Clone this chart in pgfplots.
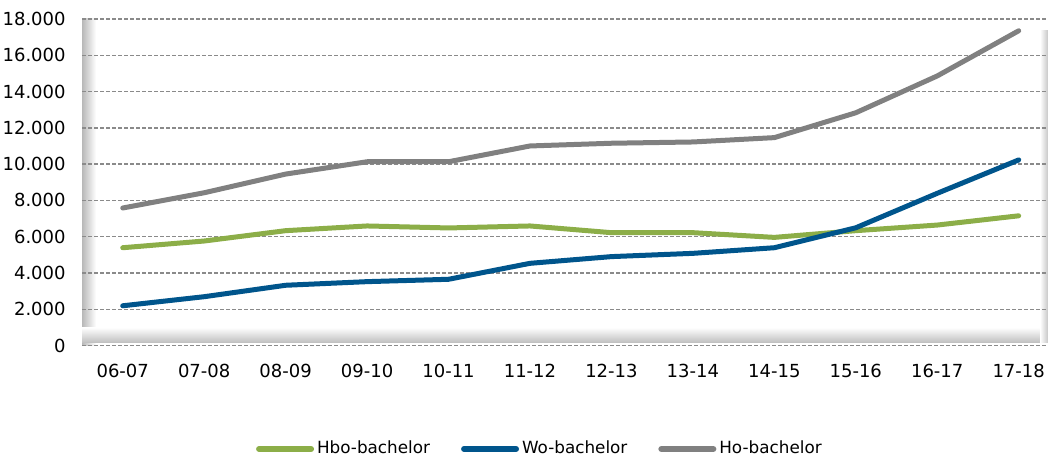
\documentclass[border=0pt]{standalone}
\usepackage{pgfplots}
\pgfplotsset{compat=1.18}
\usepackage{fontspec}
\setmainfont{DejaVu Sans}

\definecolor{hbo}{HTML}{8CAE48}
\definecolor{wo}{HTML}{00558C}
\definecolor{ho}{HTML}{808080}
\definecolor{gridc}{HTML}{8A8A8A}

\begin{document}
\begin{tikzpicture}
\begin{axis}[
    set layers,
    scale only axis, width=483pt, height=163.25pt,
    xmin=-0.5, xmax=11.36, ymin=0, ymax=18000,
    xtick={0,...,11},
    xticklabels={06-07,07-08,08-09,09-10,10-11,11-12,12-13,13-14,14-15,15-16,16-17,17-18},
    ytick={0,2000,...,18000},
    scaled y ticks=false,
    /pgf/number format/1000 sep={.},
    /pgf/number format/assume math mode=true,
    ymajorgrids,
    grid style={gridc, dash pattern=on 2pt off 1pt, line width=0.7pt},
    axis line style={draw=none}, tick style={draw=none},
    tick label style={font=\fontsize{9}{11}\selectfont, text=black},
    yticklabel style={anchor=east, inner sep=0pt, xshift=-8pt},
    xticklabel style={anchor=north, inner sep=0pt, yshift=-9pt},
    every axis plot/.append style={line width=2.5pt, line join=round, line cap=round, mark=none},
    legend image code/.code={\draw[line width=3pt, line cap=round] (0pt,0pt) -- (26pt,0pt);},
    legend style={at={(rel axis cs:0.4745,-0.317)}, anchor=center, draw=none, fill=none,
        legend columns=-1, font=\fontsize{8.4}{10}\selectfont,
        /tikz/every even column/.append style={column sep=14pt},
        nodes={inner sep=1.5pt}},
]
\begin{pgfonlayer}{axis background}
\shade[left color=black!28, right color=white] (rel axis cs:0,0) rectangle ([xshift=7pt]rel axis cs:0,1);
\shade[bottom color=black!25, top color=white] ([yshift=1.5pt]rel axis cs:0,0) rectangle ([yshift=9pt]rel axis cs:1,0);
\shade[left color=white, right color=black!22] ([xshift=-4pt,yshift=1.5pt]rel axis cs:1,0) rectangle ([yshift=-6pt]rel axis cs:1,1);
\end{pgfonlayer}
\coordinate (sw) at (rel axis cs:0,0);

\addplot[hbo] coordinates {
    (0,5390) (1,5760) (2,6330) (3,6590) (4,6480) (5,6590)
    (6,6220) (7,6220) (8,5960) (9,6330) (10,6640) (11,7150)};
\addlegendentry{Hbo-bachelor}
\addplot[wo] coordinates {
    (0,2190) (1,2690) (2,3320) (3,3520) (4,3650) (5,4530)
    (6,4900) (7,5080) (8,5390) (9,6490) (10,8390) (11,10230)};
\addlegendentry{Wo-bachelor}
\addplot[ho] coordinates {
    (0,7580) (1,8420) (2,9450) (3,10130) (4,10130) (5,11000)
    (6,11150) (7,11220) (8,11460) (9,12830) (10,14860) (11,17350)};
\addlegendentry{Ho-bachelor}
\end{axis}
\pgfresetboundingbox
\path (sw) ++(-41pt,-56.75pt) rectangle ++(524pt,229.5pt);
\end{tikzpicture}
\end{document}
